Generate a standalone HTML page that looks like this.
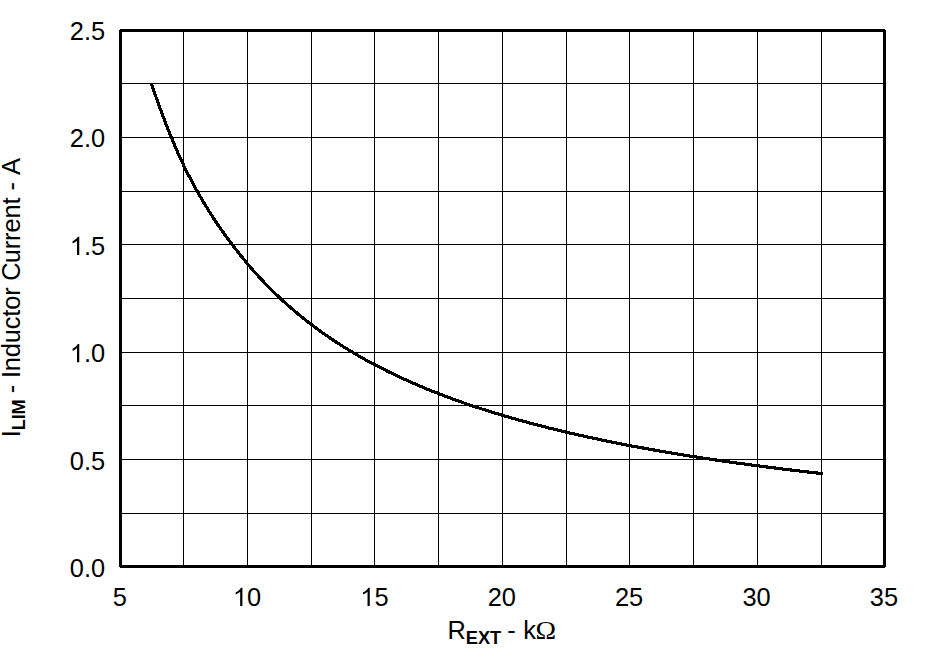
<!DOCTYPE html>
<html><head><meta charset="utf-8"><title>chart</title>
<style>
html,body{margin:0;padding:0;background:#fff;}
body{width:930px;height:657px;overflow:hidden;}
svg{display:block;}
text{font-family:"Liberation Sans",sans-serif;fill:#000;}
.t{font-size:25.4px;}
.b{font-size:18.2px;font-weight:bold;}
.o{font-family:"Liberation Serif",serif;}
</style></head>
<body>
<svg width="930" height="657" viewBox="0 0 930 657">
<rect x="0" y="0" width="930" height="657" fill="#fff"/>
<g shape-rendering="crispEdges" fill="#000">
<rect x="183" y="31" width="1" height="535"/>
<rect x="247" y="31" width="1" height="535"/>
<rect x="311" y="31" width="1" height="535"/>
<rect x="374" y="31" width="1" height="535"/>
<rect x="438" y="31" width="1" height="535"/>
<rect x="502" y="31" width="1" height="535"/>
<rect x="566" y="31" width="1" height="535"/>
<rect x="629" y="31" width="1" height="535"/>
<rect x="693" y="31" width="1" height="535"/>
<rect x="757" y="31" width="1" height="535"/>
<rect x="821" y="31" width="1" height="535"/>
<rect x="121" y="83" width="764" height="1"/>
<rect x="121" y="137" width="764" height="1"/>
<rect x="121" y="191" width="764" height="1"/>
<rect x="121" y="244" width="764" height="1"/>
<rect x="121" y="298" width="764" height="1"/>
<rect x="121" y="352" width="764" height="1"/>
<rect x="121" y="405" width="764" height="1"/>
<rect x="121" y="459" width="764" height="1"/>
<rect x="121" y="513" width="764" height="1"/>
<rect x="120" y="29" width="765" height="3"/>
<rect x="120" y="565" width="765" height="3"/>
<rect x="119" y="30" width="3" height="537"/>
<rect x="883" y="30" width="3" height="537"/>
</g>
<polyline fill="none" stroke="#000" stroke-width="3.15" stroke-linejoin="round" shape-rendering="crispEdges" points="151.4,83.3 155.6,95.8 159.8,107.7 164.0,118.9 168.2,129.7 172.4,139.9 176.5,149.7 180.7,159.0 184.9,167.9 189.1,176.2 193.3,184.1 197.5,191.8 201.7,199.1 205.9,206.1 210.1,212.9 214.3,219.4 218.5,225.7 222.7,231.7 226.9,237.5 231.1,243.1 235.3,248.6 239.5,254.0 243.7,259.2 247.9,264.3 252.1,269.2 256.3,273.9 260.5,278.5 264.7,283.0 268.9,287.3 273.1,291.5 277.3,295.5 281.5,299.5 285.7,303.3 289.9,307.0 294.1,310.6 298.3,314.2 302.5,317.6 306.7,320.9 310.8,324.2 315.0,327.3 319.2,330.4 323.4,333.4 327.6,336.3 331.8,339.2 336.0,342.0 340.2,344.7 344.4,347.3 348.6,349.9 352.8,352.4 357.0,354.9 361.2,357.3 365.4,359.7 369.6,362.0 373.8,364.2 378.0,366.4 382.2,368.6 386.4,370.7 390.6,372.8 394.8,374.8 399.0,376.8 403.2,378.7 407.4,380.6 411.6,382.5 415.8,384.3 420.0,386.1 424.2,387.9 428.4,389.6 432.6,391.3 436.8,392.9 441.0,394.6 445.1,396.2 449.3,397.7 453.5,399.3 457.7,400.8 461.9,402.3 466.1,403.7 470.3,405.2 474.5,406.6 478.7,407.9 482.9,409.3 487.1,410.6 491.3,412.0 495.5,413.2 499.7,414.5 503.9,415.8 508.1,417.0 512.3,418.2 516.5,419.4 520.7,420.6 524.9,421.7 529.1,422.8 533.3,424.0 537.5,425.1 541.7,426.1 545.9,427.2 550.1,428.3 554.3,429.3 558.5,430.3 562.7,431.3 566.9,432.3 571.1,433.3 575.3,434.2 579.5,435.2 583.6,436.1 587.8,437.0 592.0,437.9 596.2,438.8 600.4,439.7 604.6,440.6 608.8,441.5 613.0,442.3 617.2,443.1 621.4,444.0 625.6,444.8 629.8,445.6 634.0,446.4 638.2,447.1 642.4,447.9 646.6,448.7 650.8,449.4 655.0,450.2 659.2,450.9 663.4,451.6 667.6,452.3 671.8,453.1 676.0,453.8 680.2,454.4 684.4,455.1 688.6,455.8 692.8,456.5 697.0,457.1 701.2,457.8 705.4,458.4 709.6,459.0 713.8,459.7 717.9,460.3 722.1,460.9 726.3,461.5 730.5,462.1 734.7,462.7 738.9,463.3 743.1,463.8 747.3,464.4 751.5,465.0 755.7,465.5 759.9,466.1 764.1,466.6 768.3,467.2 772.5,467.7 776.7,468.2 780.9,468.8 785.1,469.3 789.3,469.8 793.5,470.3 797.7,470.8 801.9,471.3 806.1,471.8 810.3,472.3 814.5,472.8 818.7,473.2 822.9,473.7"/>
<text class="t" x="105.1" y="40.0" text-anchor="end">2.5</text>
<text class="t" x="105.1" y="147.4" text-anchor="end">2.0</text>
<path transform="translate(69.79,254.88) scale(0.01240,-0.01240)" d="M763 0H583V1147Q518 1085 412.5 1023Q307 961 223 930V1104Q374 1175 487 1276Q600 1377 647 1472H763Z"/>
<text class="t" x="105.1" y="254.9" text-anchor="end">.5</text>
<path transform="translate(69.79,362.32) scale(0.01240,-0.01240)" d="M763 0H583V1147Q518 1085 412.5 1023Q307 961 223 930V1104Q374 1175 487 1276Q600 1377 647 1472H763Z"/>
<text class="t" x="105.1" y="362.3" text-anchor="end">.0</text>
<text class="t" x="105.1" y="469.8" text-anchor="end">0.5</text>
<text class="t" x="105.1" y="577.2" text-anchor="end">0.0</text>
<text class="t" x="119.7" y="606" text-anchor="middle">5</text>
<path transform="translate(232.94,606.00) scale(0.01240,-0.01240)" d="M763 0H583V1147Q518 1085 412.5 1023Q307 961 223 930V1104Q374 1175 487 1276Q600 1377 647 1472H763Z"/>
<text class="t" x="247.1" y="606">0</text>
<path transform="translate(360.30,606.00) scale(0.01240,-0.01240)" d="M763 0H583V1147Q518 1085 412.5 1023Q307 961 223 930V1104Q374 1175 487 1276Q600 1377 647 1472H763Z"/>
<text class="t" x="374.4" y="606">5</text>
<text class="t" x="501.8" y="606" text-anchor="middle">20</text>
<text class="t" x="629.1" y="606" text-anchor="middle">25</text>
<text class="t" x="756.5" y="606" text-anchor="middle">30</text>
<text class="t" x="883.9" y="606" text-anchor="middle">35</text>
<text class="t" x="447.5" y="638.7">R<tspan class="b" dy="4.8">EXT</tspan><tspan dy="-4.8" dx="-1.35" letter-spacing="0.25"> - k</tspan></text>
<text class="t o" transform="translate(535.5,638.8) scale(1.09,1.02)">&#937;</text>
<text class="t" transform="translate(19.8,437.3) rotate(-90)" x="0" y="0" letter-spacing="-0.12">I<tspan class="b" dy="5.3">LIM</tspan><tspan dy="-5.3" dx="-0.8" letter-spacing="-0.15"> - Inductor C</tspan><tspan dx="-0.9" letter-spacing="-0.085">urrent -</tspan><tspan dx="1.75"> A</tspan></text>
</svg>
</body></html>
